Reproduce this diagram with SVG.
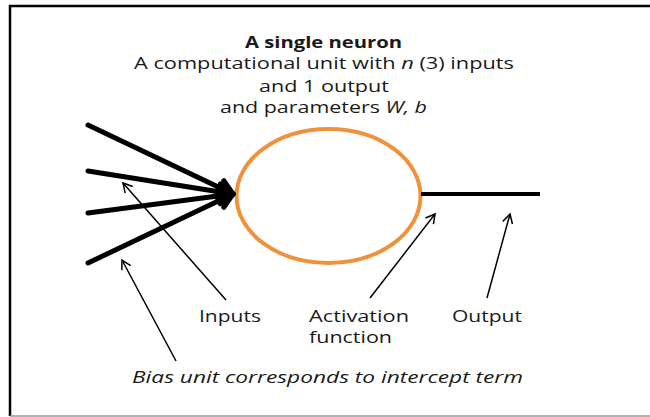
<svg xmlns="http://www.w3.org/2000/svg" width="650" height="417" viewBox="0 0 650 417">
  <style>
    .txt { font-family: "Open Sans", "Liberation Sans", sans-serif; font-size: 17px; fill: #1a1a1a; }
    .title { font-weight: bold; font-size: 16.5px; }
    .input { stroke: #000; stroke-width: 5; stroke-linecap: round; fill: none; }
    .pointer { stroke: #000; stroke-width: 1.5; fill: none; }
  </style>
  <defs>
    <marker id="bigHead" markerUnits="userSpaceOnUse" markerWidth="24" markerHeight="24" viewBox="0 0 24 24" refX="20" refY="12" orient="auto">
      <path d="M6,4 L20,12 L6,20" fill="none" stroke="#000" stroke-width="5" stroke-linejoin="round" stroke-linecap="round"/>
    </marker>
    <marker id="thinHead" markerUnits="userSpaceOnUse" markerWidth="14" markerHeight="14" viewBox="0 0 14 14" refX="12" refY="7" orient="auto">
      <path d="M3,2 L12,7 L3,12" fill="none" stroke="#000" stroke-width="1.5"/>
    </marker>
  </defs>

  <rect x="0" y="0" width="650" height="417" fill="#fff"/>
  <!-- outer frame -->
  <path d="M10,416 L10,6 L650,6" fill="none" stroke="#000" stroke-width="2.5"/>
  <line x1="10" y1="416" x2="650" y2="416" stroke="#999" stroke-width="1.5"/>

  <!-- heading (glyphs widened to fixed line lengths) -->
  <g id="heading" class="txt">
    <text class="title" x="245" y="48" textLength="157" lengthAdjust="spacingAndGlyphs">A single neuron</text>
    <text x="134" y="69" textLength="380" lengthAdjust="spacingAndGlyphs">A computational unit with <tspan font-style="italic">n</tspan> (3) inputs</text>
    <text x="259" y="92" textLength="130" lengthAdjust="spacingAndGlyphs">and 1 output</text>
    <text x="220" y="113" textLength="207" lengthAdjust="spacingAndGlyphs">and parameters <tspan font-style="italic">W, b</tspan></text>
  </g>

  <!-- neuron body -->
  <g id="neuron">
    <ellipse cx="328.5" cy="196" rx="92" ry="67" fill="#fff" stroke="#F0913C" stroke-width="4"/>
  </g>

  <!-- connectors -->
  <g id="connectors">
    <line class="input" x1="88" y1="125" x2="233" y2="194" marker-end="url(#bigHead)"/>
    <line class="input" x1="88" y1="171" x2="233" y2="194" marker-end="url(#bigHead)"/>
    <line class="input" x1="88" y1="213" x2="233" y2="194" marker-end="url(#bigHead)"/>
    <line class="input" x1="88" y1="263" x2="233" y2="194" marker-end="url(#bigHead)"/>
    <line x1="421" y1="194" x2="540" y2="194" stroke="#000" stroke-width="4"/>

    <line class="pointer" x1="226" y1="300" x2="123" y2="183" marker-end="url(#thinHead)"/>
    <line class="pointer" x1="176" y1="361" x2="122" y2="260" marker-end="url(#thinHead)"/>
    <line class="pointer" x1="370" y1="298" x2="435" y2="214" marker-end="url(#thinHead)"/>
    <line class="pointer" x1="487" y1="298" x2="510" y2="214" marker-end="url(#thinHead)"/>
  </g>

  <!-- labels -->
  <g id="label-inputs" class="txt"><text x="199" y="322" textLength="62" lengthAdjust="spacingAndGlyphs">Inputs</text></g>
  <g id="label-activation" class="txt">
    <text x="309" y="322" textLength="100" lengthAdjust="spacingAndGlyphs">Activation</text>
    <text x="309" y="343" textLength="83" lengthAdjust="spacingAndGlyphs">function</text>
  </g>
  <g id="label-output" class="txt"><text x="452" y="322" textLength="70" lengthAdjust="spacingAndGlyphs">Output</text></g>
  <g id="label-bias" class="txt"><text x="132" y="383" font-style="italic" textLength="391" lengthAdjust="spacingAndGlyphs">Bias unit corresponds to intercept term</text></g>
</svg>
